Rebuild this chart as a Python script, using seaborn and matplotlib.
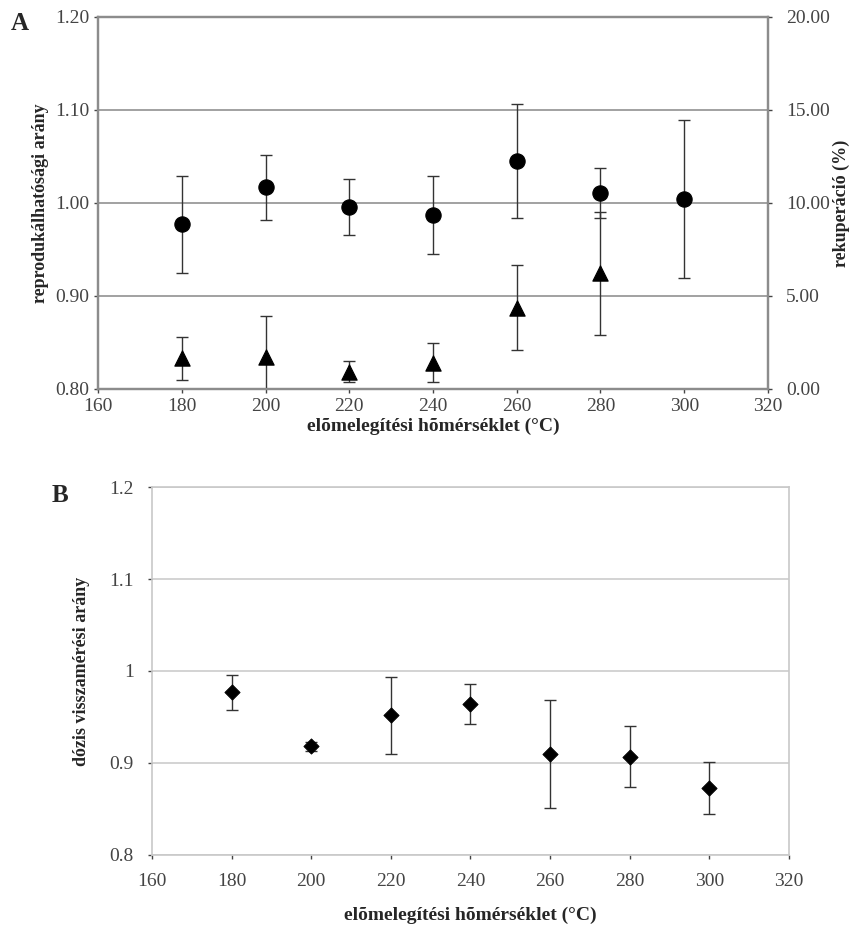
import numpy as np
import pandas as pd
import matplotlib
matplotlib.use("Agg")
import matplotlib.pyplot as plt
import seaborn as sns
from matplotlib.ticker import FuncFormatter

## data -- panel A
temp_a = [180, 200, 220, 240, 260, 280, 300]
repro = [0.977, 1.017, 0.996, 0.987, 1.045, 1.011, 1.004]
repro_err = [0.052, 0.035, 0.030, 0.042, 0.061, 0.027, 0.085]

temp_rec = [180, 200, 220, 240, 260, 280]
recup = [1.65, 1.74, 0.93, 1.42, 4.37, 6.22]
recup_err = [1.15, 2.20, 0.57, 1.07, 2.30, 3.30]

## data -- panel B
temp_b = [180, 200, 220, 240, 260, 280, 300]
dose = [0.977, 0.918, 0.952, 0.964, 0.910, 0.907, 0.873]
dose_err = [0.019, 0.005, 0.042, 0.022, 0.059, 0.033, 0.028]

x_ticks = [160, 180, 200, 220, 240, 260, 280, 300, 320]
xlabel = "elõmelegítési hõmérséklet (°C)"

df_a = pd.DataFrame({"temp": temp_a, "val": repro, "err": repro_err})
df_r = pd.DataFrame({"temp": temp_rec, "val": recup, "err": recup_err})
df_b = pd.DataFrame({"temp": temp_b, "val": dose, "err": dose_err})

sns.set_style("white")
plt.rcParams['font.family'] = ['Liberation Serif', 'DejaVu Serif']

fig = plt.figure(figsize=(8.6, 9.38), dpi=100)

## ---------------- panel A ---------------- ##
ax = fig.add_axes([0.114, 0.5853, 0.779, 0.3966])
ax2 = ax.twinx()

ax.errorbar(df_a["temp"], df_a["val"], yerr=df_a["err"], fmt='none',
            ecolor='#333333', elinewidth=1.0, capsize=4, capthick=1.0, zorder=2)
sns.scatterplot(data=df_a, x="temp", y="val", ax=ax, marker='o', s=120,
                color='black', edgecolor='black', zorder=3, legend=False)

ax2.errorbar(df_r["temp"], df_r["val"], yerr=df_r["err"], fmt='none',
             ecolor='#333333', elinewidth=1.0, capsize=4, capthick=1.0, zorder=2)
sns.scatterplot(data=df_r, x="temp", y="val", ax=ax2, marker='^', s=120,
                color='black', edgecolor='black', zorder=3, legend=False)

ax.set_xlim(160, 320)
ax.set_ylim(0.80, 1.20)
ax2.set_ylim(0, 20)
ax.set_xticks(x_ticks)
ax.set_yticks([0.80, 0.90, 1.00, 1.10, 1.20])
ax2.set_yticks([0, 5, 10, 15, 20])
ax.yaxis.set_major_formatter(FuncFormatter(lambda v, p: f"{v:.2f}"))
ax2.yaxis.set_major_formatter(FuncFormatter(lambda v, p: f"{v:.2f}"))
ax.grid(axis='y', color='#9a9a9a', linewidth=1.3)
ax.grid(axis='x', visible=False)
ax2.grid(False)
for a in (ax, ax2):
    for s in a.spines.values():
        s.set_color('#8c8c8c')
        s.set_linewidth(1.6)
    a.tick_params(axis='both', labelsize=14, colors='#444444', length=3,
                  direction='out', width=1)
ax.tick_params(axis='y', left=True)
ax.tick_params(axis='x', bottom=True)
ax2.tick_params(axis='y', right=True, pad=10)
ax.set_xlabel(xlabel, fontsize=14, fontweight='bold', labelpad=2)
ax.set_ylabel("reprodukálhatósági arány", fontsize=13, fontweight='bold', labelpad=4)
ax2.set_ylabel("rekuperáció (%)", fontsize=13, fontweight='bold', labelpad=2)
ax2.set_xlabel("")

fig.text(0.012, 0.975, "A", fontsize=18, fontweight='bold', va='center')

## ---------------- panel B ---------------- ##
bx = fig.add_axes([0.1767, 0.0885, 0.7407, 0.3923])
bx.errorbar(df_b["temp"], df_b["val"], yerr=df_b["err"], fmt='none',
            ecolor='#333333', elinewidth=1.0, capsize=4, capthick=1.0, zorder=2)
sns.scatterplot(data=df_b, x="temp", y="val", ax=bx, marker='D', s=60,
                color='black', edgecolor='black', zorder=3, legend=False)
bx.set_xlim(160, 320)
bx.set_ylim(0.8, 1.2)
bx.set_xticks(x_ticks)
bx.set_yticks([0.8, 0.9, 1.0, 1.1, 1.2])
bx.yaxis.set_major_formatter(FuncFormatter(lambda v, p: f"{v:g}"))
bx.grid(axis='y', color='#d0d0d0', linewidth=1.3)
bx.grid(axis='x', visible=False)
for s in bx.spines.values():
    s.set_color('#c8c8c8')
    s.set_linewidth(1.2)
bx.tick_params(axis='both', labelsize=14, colors='#444444', length=3,
               direction='out', width=1, left=True, bottom=True, pad=10)
bx.set_xlabel(xlabel, fontsize=14, fontweight='bold', labelpad=12)
bx.set_ylabel("dózis visszamérési arány", fontsize=13, fontweight='bold', labelpad=14)

fig.text(0.06, 0.472, "B", fontsize=18, fontweight='bold', va='center')

plt.savefig('out.png', dpi=100)
